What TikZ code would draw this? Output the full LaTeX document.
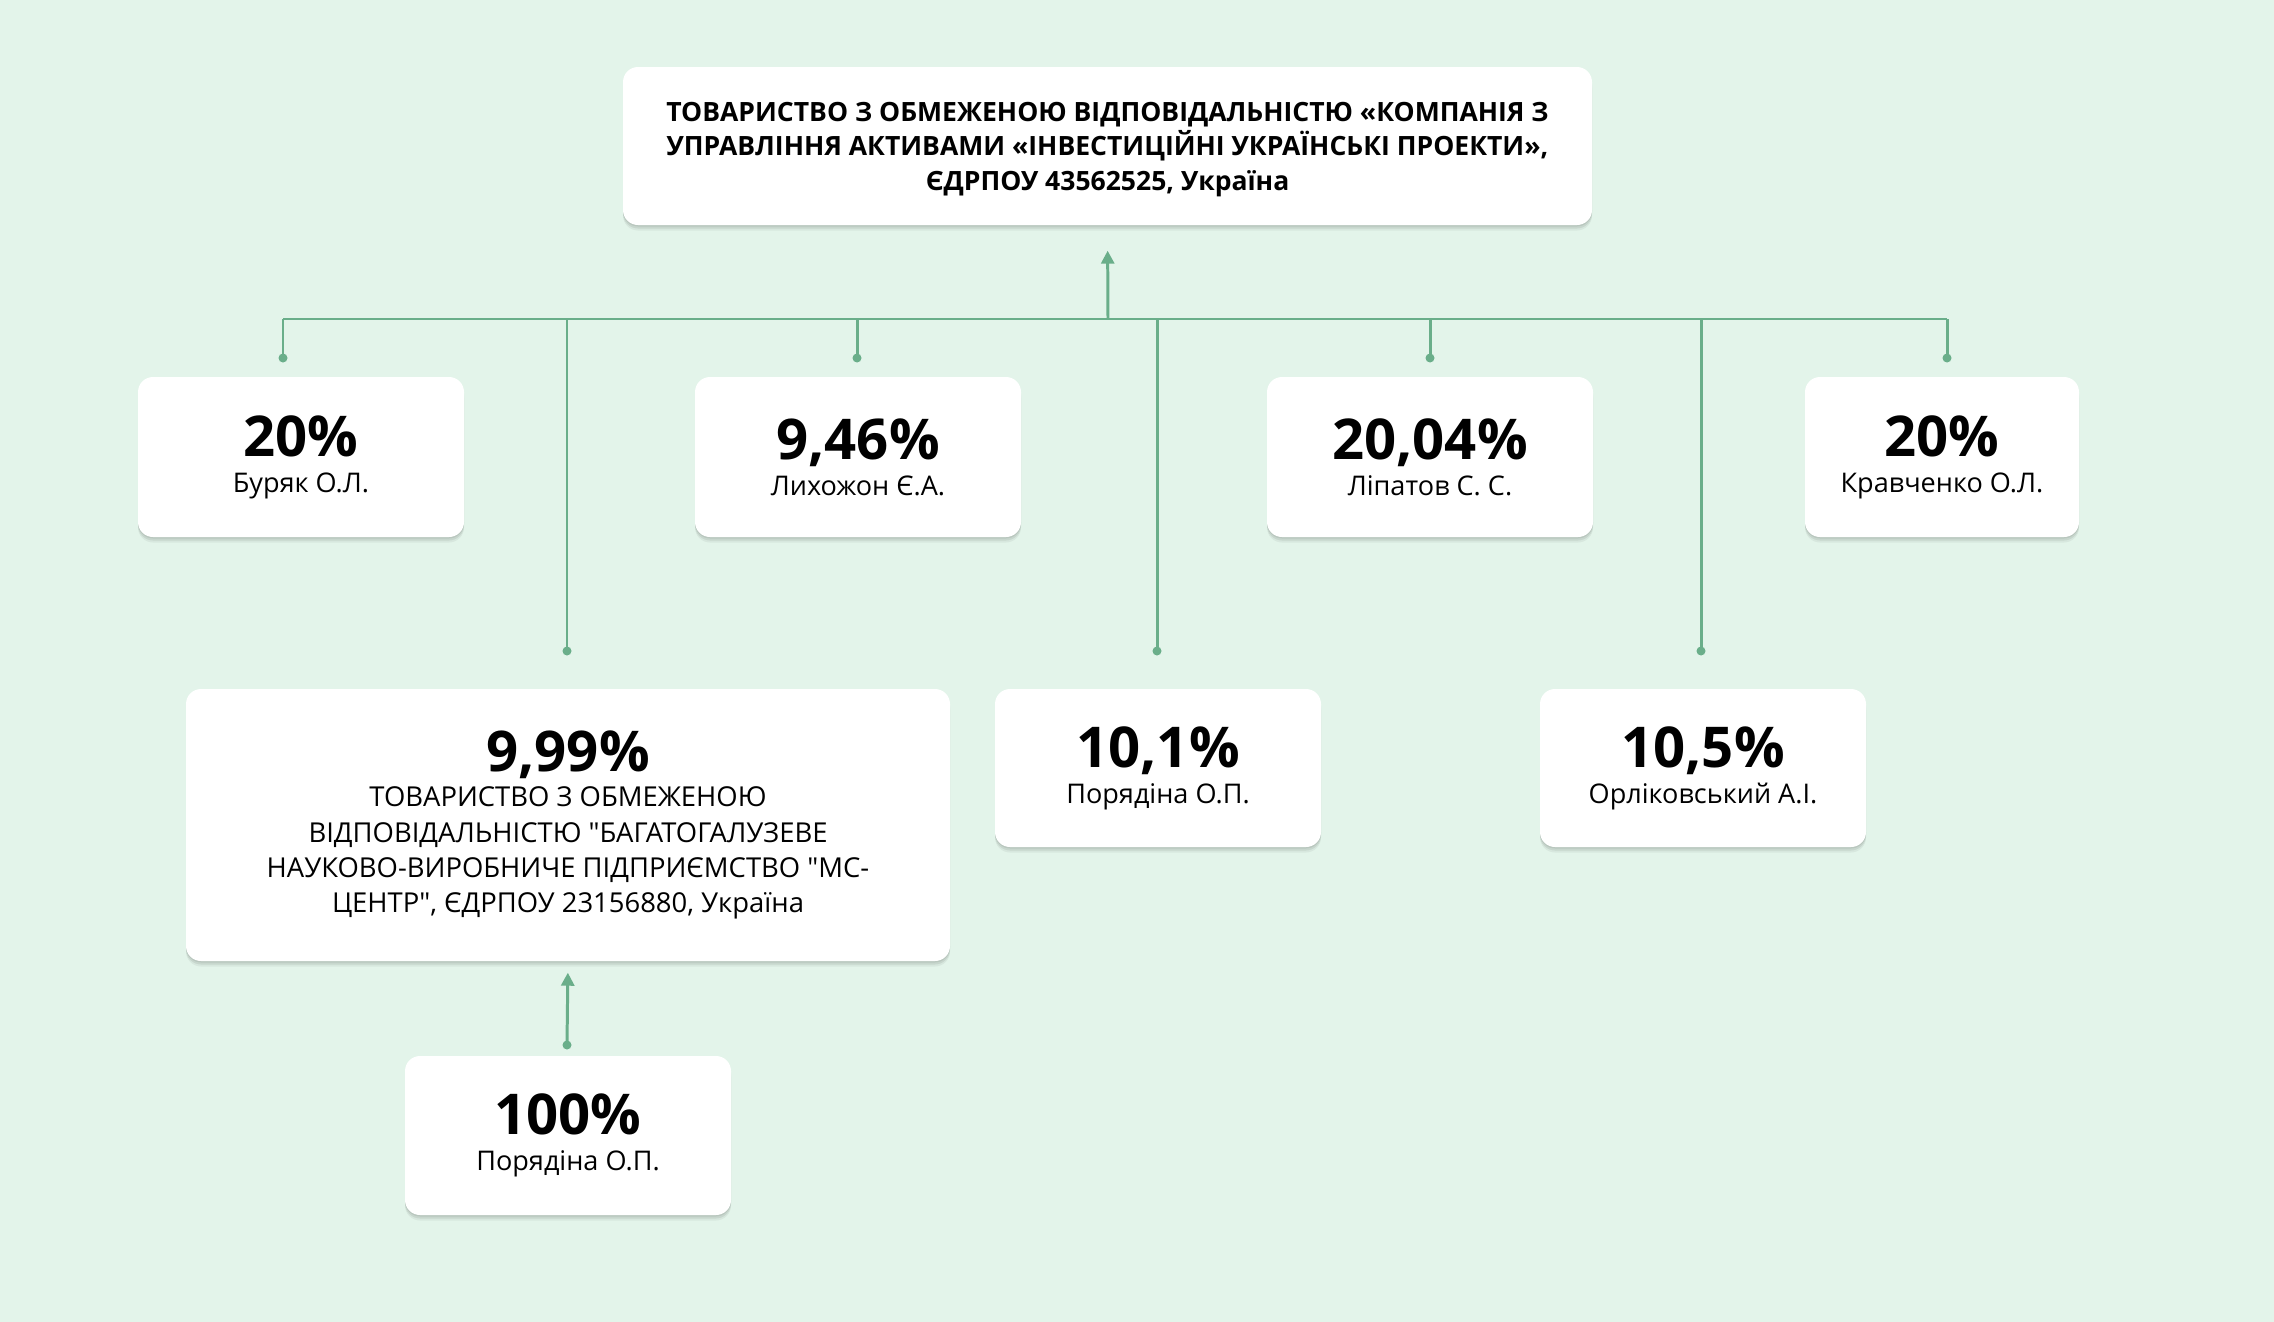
\documentclass[tikz,border=0pt]{standalone}
\usepackage{fontspec}
\setmainfont{Open Sans}
\usepackage{tikz}
\usetikzlibrary{arrows.meta, shadows}

\definecolor{bgcol}{HTML}{E3F4EA}
\definecolor{linkcol}{HTML}{6AAE8A}

\tikzset{
    softshadow/.style={
        general shadow={shadow yshift=-0.015cm, fill=black, opacity=0.07},
        general shadow={shadow yshift=-0.035cm, fill=black, opacity=0.07},
        general shadow={shadow yshift=-0.055cm, fill=black, opacity=0.05}},
    box/.style={fill=white, rounded corners=0.15cm, align=center, inner sep=0pt,
        softshadow, font=\fontsize{7.7}{10.2}\selectfont},
    link/.style={draw=linkcol, line width=0.85pt},
    uparrow/.style={link, -{Triangle[length=0.13cm, width=0.13cm]}}
}
\newcommand{\pct}[1]{{\fontsize{16}{18}\selectfont\bfseries #1}}

\begin{document}
\begin{tikzpicture}
    % Background
    \fill[bgcol] (0,0) rectangle (22.74,-13.22);
    \useasboundingbox (0,0) rectangle (22.74,-13.22);

    % Company on top
    \node[box, minimum width=9.69cm, minimum height=1.58cm, text depth=0pt,
          font=\fontsize{7.55}{9.8}\selectfont\bfseries] (top) at (11.075,-1.46)
        {ТОВАРИСТВО З ОБМЕЖЕНОЮ ВІДПОВІДАЛЬНІСТЮ «КОМПАНІЯ З\\
         УПРАВЛІННЯ АКТИВАМИ «ІНВЕСТИЦІЙНІ УКРАЇНСЬКІ ПРОЕКТИ»,\\
         ЄДРПОУ 43562525, Україна};

    % Owners, first row
    \node[box, minimum width=3.26cm, minimum height=1.60cm] (buryak) at (3.01,-4.57)
        {\pct{20\%}\\Буряк О.Л.};
    \node[box, minimum width=3.26cm, minimum height=1.60cm] (lykh) at (8.58,-4.57)
        {\pct{9,46\%}\\Лихожон Є.А.};
    \node[box, minimum width=3.26cm, minimum height=1.60cm] (lip) at (14.30,-4.57)
        {\pct{20,04\%}\\Ліпатов С. С.};
    \node[box, minimum width=2.74cm, minimum height=1.60cm] (krav) at (19.42,-4.57)
        {\pct{20\%}\\Кравченко О.Л.};

    % Owners, second row
    \node[box, minimum width=7.64cm, minimum height=2.72cm,
          font=\fontsize{7.8}{10}\selectfont] (msc) at (5.68,-8.25)
        {\pct{9,99\%}\\ТОВАРИСТВО З ОБМЕЖЕНОЮ\\
         ВІДПОВІДАЛЬНІСТЮ \textquotedbl БАГАТОГАЛУЗЕВЕ\\
         НАУКОВО-ВИРОБНИЧЕ ПІДПРИЄМСТВО \textquotedbl МС-\\
         ЦЕНТР\textquotedbl, ЄДРПОУ 23156880, Україна};
    \node[box, minimum width=3.26cm, minimum height=1.58cm] (por) at (11.58,-7.68)
        {\pct{10,1\%}\\Порядіна О.П.};
    \node[box, minimum width=3.26cm, minimum height=1.58cm] (orl) at (17.03,-7.68)
        {\pct{10,5\%}\\Орліковський А.І.};

    % Owner of the second company
    \node[box, minimum width=3.26cm, minimum height=1.59cm] (por2) at (5.68,-11.355)
        {\pct{100\%}\\Порядіна О.П.};

    % Bus line and arrow up
    \coordinate (busl) at (2.83,-3.19);
    \coordinate (busr) at (19.47,-3.19);
    \coordinate (busm) at (11.08,-3.19);
    \draw[link] (busl) -- (busr);
    \draw[uparrow, shorten >=0.25cm] (busm) -- (top.south);

    % Drops to the owners
    \foreach \x/\y/\n in {2.83/-3.58/a, 5.67/-6.51/b, 8.57/-3.58/c, 11.57/-6.51/d,
                          14.30/-3.58/e, 17.01/-6.51/f, 19.47/-3.58/g} {
        \coordinate (t\n) at (\x,-3.19);
        \coordinate (d\n) at (\x,\y);
        \draw[link] (t\n) -- (d\n);
        \fill[linkcol] (d\n) circle (0.045);
    }

    % 100% owner to the second company
    \coordinate (dh) at (5.67,-10.45);
    \draw[uparrow, shorten >=0.11cm] (dh) -- (msc.south);
    \fill[linkcol] (dh) circle (0.045);
\end{tikzpicture}
\end{document}
